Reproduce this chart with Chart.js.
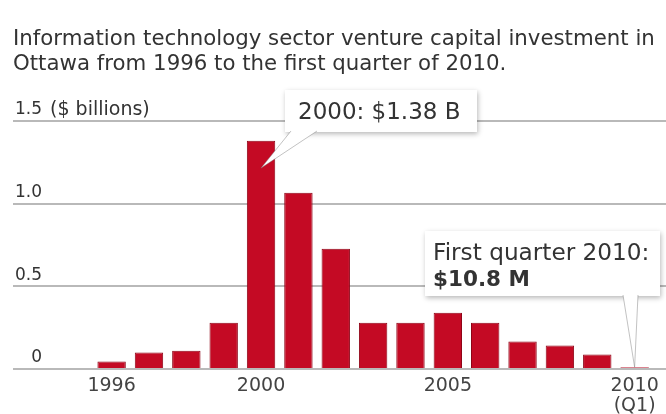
<!DOCTYPE html>
<html>
<head>
<meta charset="utf-8">
<script src="https://cdn.jsdelivr.net/npm/chart.js@4/dist/chart.umd.min.js"></script>
<style>
  html, body { margin: 0; padding: 0; background: #fff; }
  canvas { display: block; }
</style>
</head>
<body>
<canvas id="vcChart" width="666" height="414"></canvas>
<script>
const TITLE_LINES = [
  'Information technology sector venture capital investment in',
  'Ottawa from 1996 to the first quarter of 2010.',
];

// one bar per year; 2010 is the first quarter only
const YEARS = [1996, 1997, 1998, 1999, 2000, 2001, 2002, 2003, 2004, 2005, 2006, 2007, 2008, 2009, 2010];
const INVESTMENT = [0.045, 0.10, 0.11, 0.28, 1.38, 1.065, 0.727, 0.28, 0.28, 0.34, 0.28, 0.166, 0.142, 0.088, 0.0108];

const X_TICKS = [1996, 2000, 2005, 2010];
const Y_TICKS = [0, 0.5, 1.0, 1.5];
const Y_UNIT = '($ billions)';

const BAR_RED = '#c40a24';
const GRID_GREY = '#b9b9b9';
const TEXT_DARK = '#333333';
const FONT = '"DejaVu Sans", "Open Sans", sans-serif';
const Y_LABEL_LIFT = -11;

const PEAK_YEAR = 2000;
const LAST_YEAR = 2010;

const valueOf = (year) => INVESTMENT[YEARS.indexOf(year)];

// size the heading so the first line spans the plot width
function titleSize(width) {
  const c = document.createElement('canvas').getContext('2d');
  c.font = `20px ${FONT}`;
  return Math.round(20 * width / c.measureText(TITLE_LINES[0]).width * 10) / 10;
}

function drawBox(ctx, x, y, w, h) {
  ctx.save();
  ctx.shadowColor = 'rgba(0,0,0,0.28)';
  ctx.shadowBlur = 5;
  ctx.shadowOffsetX = 1;
  ctx.shadowOffsetY = 2;
  ctx.fillStyle = '#fff';
  ctx.fillRect(x, y, w, h);
  ctx.restore();
}

function drawPointer(ctx, x1, x2, baseY, tipX, tipY) {
  ctx.save();
  ctx.beginPath();
  ctx.moveTo(x1, baseY);
  ctx.lineTo(tipX, tipY);
  ctx.lineTo(x2, baseY);
  ctx.closePath();
  ctx.fillStyle = '#fff';
  ctx.fill();
  ctx.beginPath();
  ctx.moveTo(x1, baseY);
  ctx.lineTo(tipX, tipY);
  ctx.lineTo(x2, baseY);
  ctx.strokeStyle = 'rgba(120,120,120,0.45)';
  ctx.lineWidth = 1;
  ctx.stroke();
  ctx.restore();
}

// boxed notes for the 2000 peak and the latest quarter
const callouts = {
  id: 'callouts',
  afterDatasetsDraw(chart) {
    const { ctx, scales: { x, y } } = chart;

    // 2000 peak
    const peak = valueOf(PEAK_YEAR);
    drawBox(ctx, 285, 90, 192, 42);
    drawPointer(ctx, 291, 317, 131, x.getPixelForValue(PEAK_YEAR), y.getPixelForValue(peak * 0.88));
    ctx.save();
    ctx.fillStyle = TEXT_DARK;
    ctx.textBaseline = 'alphabetic';
    ctx.font = `23px ${FONT}`;
    ctx.fillText(`${PEAK_YEAR}: $${peak.toFixed(2)} B`, 298, 119);
    ctx.restore();

    // first quarter 2010
    const last = valueOf(LAST_YEAR);
    drawBox(ctx, 425, 231, 235, 65);
    drawPointer(ctx, 623, 638, 295, x.getPixelForValue(LAST_YEAR), y.getPixelForValue(last));
    ctx.save();
    ctx.fillStyle = TEXT_DARK;
    ctx.font = `23.2px ${FONT}`;
    ctx.fillText(`First quarter ${LAST_YEAR}:`, 433, 260);
    ctx.font = `bold 21.5px ${FONT}`;
    ctx.fillText(`$${(last * 1000).toFixed(1)} M`, 433, 286);
    ctx.restore();
  },
};

// unit text next to the top y label
const unitLabel = {
  id: 'unitLabel',
  afterDraw(chart) {
    const { ctx, chartArea, scales: { y } } = chart;
    const top = Y_TICKS[Y_TICKS.length - 1];
    ctx.save();
    ctx.font = `17px ${FONT}`;
    const widest = Math.max(...Y_TICKS.map((v) => ctx.measureText(v === 0 ? '0' : v.toFixed(1)).width));
    ctx.font = `19px ${FONT}`;
    ctx.fillStyle = TEXT_DARK;
    ctx.textBaseline = 'middle';
    ctx.fillText(Y_UNIT, chartArea.left + 2 + widest + 8, y.getPixelForValue(top) + Y_LABEL_LIFT);
    ctx.restore();
  },
};

new Chart(document.getElementById('vcChart'), {
  type: 'bar',
  data: {
    datasets: [{
      data: YEARS.map((yr, i) => ({ x: yr, y: INVESTMENT[i] })),
      backgroundColor: BAR_RED,
      borderColor: '#8e0517',
      borderWidth: 1,
      barPercentage: 0.76,
      categoryPercentage: 1,
    }],
  },
  options: {
    responsive: false,
    animation: false,
    devicePixelRatio: 1,
    layout: { padding: { left: 13, right: 0, top: 27, bottom: 0 } },
    plugins: {
      legend: { display: false },
      tooltip: { enabled: false },
      title: {
        display: true,
        text: TITLE_LINES,
        align: 'start',
        color: TEXT_DARK,
        font: { family: FONT, size: titleSize(643), weight: 'normal', lineHeight: 1.17 },
        padding: { top: 0, bottom: 44 },
      },
    },
    scales: {
      x: {
        type: 'linear',
        offset: false,
        min: 1993.36,
        max: 2010.84,
        afterFit: (scale) => { scale.height = 45; },
        grid: { display: false, drawTicks: false },
        border: { display: false },
        afterBuildTicks: (scale) => { scale.ticks = X_TICKS.map((v) => ({ value: v })); },
        ticks: {
          color: '#444',
          font: { family: FONT, size: 19, lineHeight: 1.05 },
          padding: 7,
          maxRotation: 0,
          callback: (v) => (v === LAST_YEAR ? [String(v), '(Q1)'] : String(v)),
        },
      },
      y: {
        min: 0,
        max: 1.5,
        afterFit: (scale) => {
          scale.width = 0;
          scale.paddingTop = 0;
          scale.paddingBottom = 0;
        },
        grid: { color: GRID_GREY, lineWidth: 2, drawTicks: false },
        border: { display: false },
        afterBuildTicks: (scale) => { scale.ticks = Y_TICKS.map((v) => ({ value: v })); },
        ticks: {
          mirror: true,
          crossAlign: 'far',
          padding: 2,
          labelOffset: Y_LABEL_LIFT,
          color: TEXT_DARK,
          font: { family: FONT, size: 17 },
          callback: (v) => (v === 0 ? '0' : v.toFixed(1)),
        },
      },
    },
  },
  plugins: [callouts, unitLabel],
});
</script>
</body>
</html>
